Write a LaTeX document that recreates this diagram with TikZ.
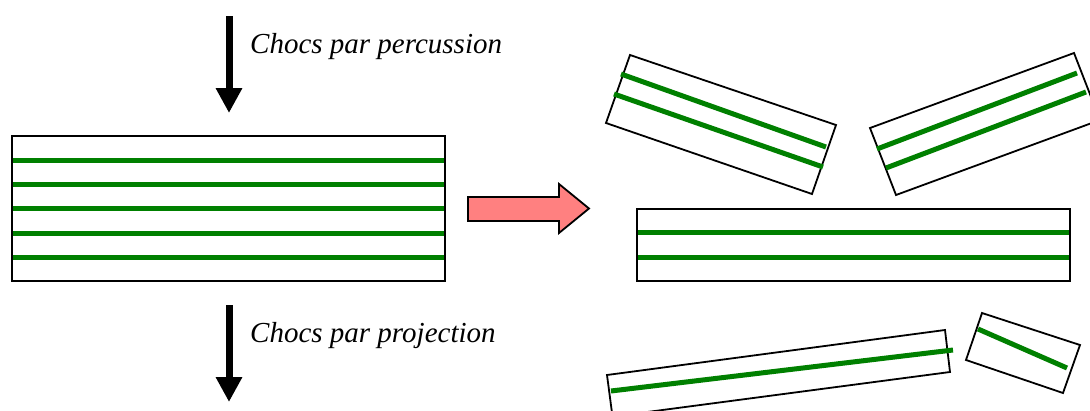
\documentclass[tikz,border=0pt]{standalone}
\usepackage{fontspec}
\setmainfont{Liberation Serif}
\usetikzlibrary{arrows.meta}
\definecolor{fibre}{RGB}{0,128,0}
\definecolor{pinkarrow}{RGB}{255,128,128}
\tikzset{
  plate/.style={draw=black, line width=1.8pt, fill=white},
  fibreline/.style={draw=fibre, line width=5pt},
  shockarrow/.style={line width=7pt, -{Triangle[width=25pt,length=25pt]}},
  label/.style={font=\fontsize{29}{34}\selectfont\itshape, inner sep=0pt, anchor=base west},
}
\begin{document}
\begin{tikzpicture}[x=1pt,y=-1pt]
\useasboundingbox (0,0) rectangle (1090,410);
\clip (0,0) rectangle (1090,410);
\fill[white] (0,0) rectangle (1090,410);

% top arrow and label
\coordinate (t1) at (229,16);
\coordinate (t2) at (229,113);
\draw[shockarrow] (t1) -- (t2);
\node[label] (lperc) at (250,53) {Chocs par percussion};

% bottom arrow and label
\coordinate (b1) at (229,305);
\coordinate (b2) at (229,402);
\draw[shockarrow] (b1) -- (b2);
\node[label] (lproj) at (250,342) {Chocs par projection};

% main composite plate
\draw[plate] (12,136) rectangle (445,281);
\foreach \yy in {160,184,208.5,233,257.5}
  \draw[fibreline] (13,\yy) -- (444,\yy);
\draw[black, line width=1.8pt] (12,136) rectangle (445,281);

% pink arrow
\draw[fill=pinkarrow, draw=black, line width=1.8pt, line join=miter]
  (468,197) -- (559,197) -- (559,184) -- (589,208.5) -- (559,233) -- (559,221) -- (468,221) -- cycle;

% middle right fragment
\draw[plate] (637,209) rectangle (1070,281);
\foreach \yy in {232,257}
  \draw[fibreline] (638,\yy) -- (1069,\yy);
\draw[black, line width=1.8pt] (637,209) rectangle (1070,281);

% top-left fragment
\draw[plate] (630,55) -- (836,125) -- (812,194) -- (606,123) -- cycle;
\draw[fibreline] (621,74) -- (826,147);
\draw[fibreline] (614,94) -- (823,167);

% top-right fragment
\draw[plate] (870,128) -- (1074,53) -- (1100,120) -- (896,195) -- cycle;
\draw[fibreline] (877,149) -- (1077,73);
\draw[fibreline] (886,168) -- (1086,92);

% bottom long fragment
\draw[plate] (607,375) -- (945,330) -- (950,372) -- (612.5,416.6) -- cycle;
\draw[fibreline] (611,391) -- (953,350);

% bottom small fragment
\draw[plate] (982,313) -- (1080,345) -- (1063,393) -- (966,360) -- cycle;
\draw[fibreline] (978,329) -- (1067,368);
\end{tikzpicture}
\end{document}
